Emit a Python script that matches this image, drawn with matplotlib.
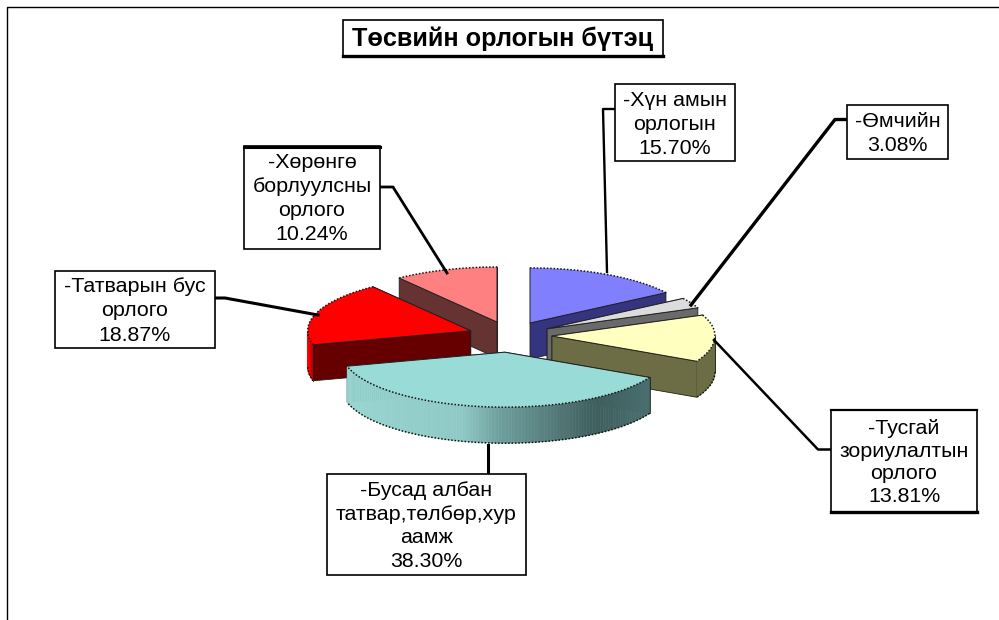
import numpy as np
import matplotlib
matplotlib.use("Agg")
import matplotlib.pyplot as plt
from matplotlib.patches import Rectangle, Polygon
from matplotlib.colors import to_rgb

title = "Төсвийн орлогын бүтэц"
categories = ["-Хүн амын\nорлогын", "-Өмчийн", "-Тусгай\nзориулалтын\nорлого",
              "-Бусад албан\nтатвар,төлбөр,хур\nаамж", "-Татварын бус\nорлого",
              "-Хөрөнгө\nборлуулсны\nорлого"]
shares = [15.70, 3.08, 13.81, 38.30, 18.87, 10.24]
value_labels = ["15.70%", "3.08%", "13.81%", "38.30%", "18.87%", "10.24%"]

top_colors = ["#8080ff", "#dcdcdc", "#ffffc0", "#99dcd7", "#ff0000", "#ff8080"]
wall_colors = ["#34347f", "#6a6a6a", "#6c6c45", "#4d7170", "#660000", "#663333"]
explode_px = [41.8, 41.8, 41.8, 50.0, 41.8, 41.8]
draw_order = [5, 0, 1, 4, 2, 3]

boxes = [(615, 84, 735, 161), (847, 105, 948, 159), (831, 410, 977, 512),
         (327, 474, 526, 575), (55, 271, 215, 348), (244, 146, 380, 249)]
line_steps = [24.0, 24.0, 22.8, 23.4, 24.5, 24.0]
leaders = [[(615, 109), (603, 109), (607, 272)],
           [(847, 119.5), (835, 119.5), (691, 305)],
           [(831, 449.5), (818, 449.5), (714, 340)],
           [(488, 445), (488, 474)],
           [(215, 298), (225, 298), (318, 315)],
           [(380, 187), (393, 187), (447, 273)]]
leader_widths = [1.7, 2.4, 1.8, 2.2, 2.2, 2.0]

CX, CY, RX, RY, DEPTH = 510.2, 335.4, 163.0, 55.0, 36.0
FS = 15.4
FONT = "Liberation Sans"

fig = plt.figure(figsize=(9.99, 6.2), dpi=100, facecolor="white")
ax = fig.add_axes([0, 0, 1, 1])
ax.set_xlim(0, 999)
ax.set_ylim(620, 0)
ax.axis("off")

# outer frame (open at right and bottom)
ax.plot([6.5, 6.5, 999], [620, 6.5, 6.5], color="black", lw=1.0, zorder=1)


def mix(a, b, t):
    a, b = np.array(to_rgb(a)), np.array(to_rgb(b))
    return tuple(a + (b - a) * t)


edges = np.cumsum([0] + shares) / sum(shares) * 360.0
teal_stops_x = [0.0, 0.38, 0.50, 0.82, 1.0]
teal_stops = ["#98d4d0", "#8fc9c6", "#6fa09e", "#3f5e5e", "#4a6e6e"]


def arc_shade(i, frac):
    if i == 3:
        rgb = np.array([to_rgb(c) for c in teal_stops])
        return tuple(np.interp(frac, teal_stops_x, rgb[:, k]) for k in range(3))
    if i == 4:
        return mix("#ff0000", "#b00000", frac)
    return wall_colors[i]


for i in draw_order:
    a0, a1 = np.radians(edges[i]), np.radians(edges[i + 1])
    mid = (a0 + a1) / 2
    px = CX + explode_px[i] * np.sin(mid)
    py = CY - explode_px[i] * np.cos(mid) * RY / RX
    th = np.linspace(a0, a1, 120)
    xs = px + RX * np.sin(th)
    ys = py - RY * np.cos(th)
    z = 10 + draw_order.index(i) * 5

    # radial walls: back first, then front
    ends = sorted([(xs[0], ys[0]), (xs[-1], ys[-1])], key=lambda p: p[1])
    for n, (ex, ey) in enumerate(ends):
        ax.add_patch(Polygon([(px, py), (ex, ey), (ex, ey + DEPTH), (px, py + DEPTH)],
                             closed=True, fc=wall_colors[i], ec="#202020", lw=0.6,
                             zorder=z + n))
    # curved outer wall (only the part that faces the viewer)
    vis = (th >= np.pi / 2) & (th <= 3 * np.pi / 2)
    if vis.sum() > 1:
        vx, vy = xs[vis], ys[vis]
        lo, hi = vx.min(), vx.max()
        for k in range(len(vx) - 1):
            frac = (0.5 * (vx[k] + vx[k + 1]) - lo) / max(hi - lo, 1)
            c = arc_shade(i, frac)
            ax.add_patch(Polygon([(vx[k], vy[k]), (vx[k + 1], vy[k + 1]),
                                  (vx[k + 1], vy[k + 1] + DEPTH), (vx[k], vy[k] + DEPTH)],
                                 closed=True, fc=c, ec=c, lw=0.4, zorder=z + 2))
        ax.plot(vx, vy + DEPTH, color="#101010", lw=1.1, ls=(0, (1, 1.2)), zorder=z + 3)
        ax.plot([vx[0], vx[0]], [vy[0], vy[0] + DEPTH], color="#202020", lw=0.6, zorder=z + 3)
    # top face
    ax.fill(np.r_[px, xs], np.r_[py, ys], color=top_colors[i], lw=0, zorder=z + 4)
    ax.plot(xs, ys, color="#151515", lw=1.1, ls=(0, (1, 1.2)), zorder=z + 4)
    ax.plot([xs[0], px, xs[-1]], [ys[0], py, ys[-1]], color="#202020", lw=0.7, zorder=z + 4)

# leader lines
for pts, w in zip(leaders, leader_widths):
    p = np.array(pts)
    ax.plot(p[:, 0], p[:, 1], color="black", lw=w, solid_joinstyle="round", zorder=50)

# data labels
for (x0, y0, x1, y1), cat, val, step in zip(boxes, categories, value_labels, line_steps):
    ax.add_patch(Rectangle((x0, y0), x1 - x0, y1 - y0, fc="white", ec="black", lw=1.2, zorder=55))
    lines = cat.split("\n") + [val]
    yc = (y0 + y1) / 2 + 1.5
    for n, line in enumerate(lines):
        ax.text((x0 + x1) / 2, yc + step * (n - (len(lines) - 1) / 2), line, ha="center",
                va="center", fontsize=FS, family=FONT, color="black", zorder=60)

# thick box sides seen in the reference
ax.plot([244, 380], [147, 147], color="black", lw=2.2, zorder=56)
ax.plot([831, 977], [511.5, 511.5], color="black", lw=2.4, zorder=56)
ax.plot([831, 977], [410, 410], color="black", lw=1.6, zorder=56)

# title
ax.add_patch(Rectangle((343, 20), 320, 35.5, fc="white", ec="black", lw=1.2, zorder=55))
ax.plot([343, 663], [55.5, 55.5], color="black", lw=2.4, zorder=56)
ax.text(502.5, 39, title, ha="center", va="center", fontsize=18.2, fontweight="bold",
        family=FONT, color="black", zorder=60)

fig.savefig("out.png", dpi=100, facecolor="white")
